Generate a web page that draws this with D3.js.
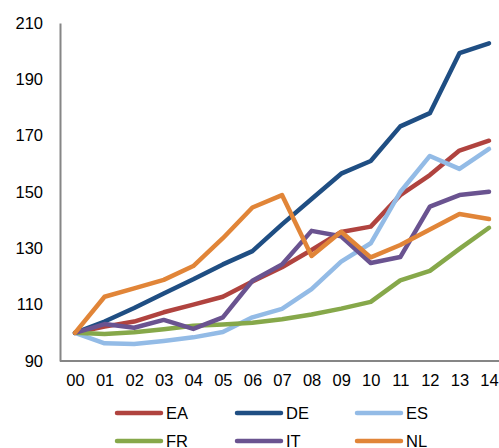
<!DOCTYPE html>
<html>
<head>
<meta charset="utf-8">
<script src="https://cdn.jsdelivr.net/npm/d3@7"></script>
<style>
	body { margin: 0; background: #fff; }
	text { font-family: "Liberation Sans", Arial, sans-serif; fill: #000; }
</style>
</head>
<body>
<svg width="499" height="448"></svg>
<script>
const years = ["00", "01", "02", "03", "04", "05", "06", "07", "08", "09", "10", "11", "12", "13", "14"];
const yTicks = [90, 110, 130, 150, 170, 190, 210];

const EA = [100, 102.2, 104, 107.3, 110, 112.8, 118.2, 123.3, 129.4, 135.8, 137.7, 148.9, 156, 164.7, 168.2];
const DE = [100, 104, 108.8, 114, 119, 124.3, 129, 138.5, 147.5, 156.5, 161, 173.3, 178, 199.3, 202.8];
const ES = [100, 96.3, 96, 97.1, 98.4, 100.3, 105.5, 108.5, 115.5, 125.3, 131.8, 150, 162.8, 158.2, 165.3];
const FR = [100, 99.6, 100.2, 101.3, 102.5, 103, 103.6, 104.8, 106.5, 108.6, 111, 118.6, 122, 129.8, 137.3];
const IT = [100, 103.1, 101.8, 104.6, 101.4, 105.5, 118.5, 124.3, 136.2, 134.3, 124.8, 126.9, 144.8, 148.9, 150.1];
const NL = [100, 112.8, 115.8, 118.8, 123.7, 133.6, 144.5, 148.9, 127.3, 135.9, 126.8, 131.2, 136.7, 142.2, 140.4];

const seriesNames = ["EA", "DE", "ES", "FR", "IT", "NL"];
const seriesValues = [EA, DE, ES, FR, IT, NL];
const colors = ["#B0433F", "#1F4E83", "#93BBE6", "#86A84A", "#6A5390", "#E18538"];

const svg = d3.select("svg");

const x = d3.scalePoint().domain(years).range([75, 489]);
const y = d3.scaleLinear().domain([90, 210]).range([361, 23]);

// axes
const yAxis = svg.append("g")
	.attr("transform", "translate(60,0)")
	.call(d3.axisLeft(y).tickValues(yTicks).tickSize(0).tickPadding(17));
yAxis.select(".domain").attr("stroke", "#868686").attr("stroke-width", 2);
yAxis.selectAll("text").style("font-size", "16.5px").attr("font-family", null);

const xAxis = svg.append("g")
	.attr("transform", "translate(0,361)")
	.call(d3.axisBottom(x).tickSize(0).tickPadding(13));
xAxis.select(".domain").attr("d", "M60,0H499").attr("stroke", "#868686").attr("stroke-width", 2);
xAxis.selectAll("text").style("font-size", "16.5px").attr("font-family", null);

// lines
const line = d3.line()
	.x((d, i) => x(years[i]))
	.y(d => y(d));

svg.append("g").selectAll("path")
	.data(seriesValues)
	.join("path")
	.attr("d", line)
	.attr("fill", "none")
	.attr("stroke", (d, i) => colors[i])
	.attr("stroke-width", 4.5)
	.attr("stroke-linejoin", "round")
	.attr("stroke-linecap", "round");

// legend
const legend = svg.append("g").selectAll("g")
	.data(seriesNames)
	.join("g")
	.attr("transform", (d, i) => `translate(${117 + (i % 3) * 120},${413 + Math.floor(i / 3) * 28})`);

legend.append("line")
	.attr("x1", 0).attr("x2", 44)
	.attr("stroke", (d, i) => colors[i])
	.attr("stroke-width", 4.5)
	.attr("stroke-linecap", "round");

legend.append("text")
	.attr("x", 49)
	.attr("dy", "0.35em")
	.style("font-size", "16.5px")
	.text(d => d);
</script>
</body>
</html>
